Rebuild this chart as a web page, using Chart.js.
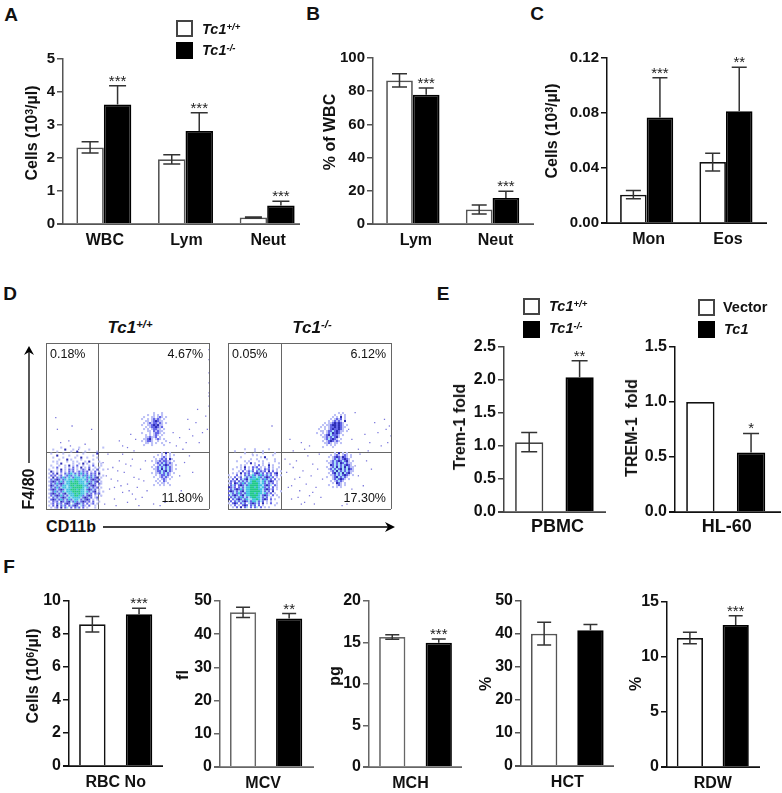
<!DOCTYPE html>
<html>
<head>
<meta charset="utf-8">
<title>Tc1 blood counts</title>
<script src="https://cdn.jsdelivr.net/npm/chart.js@4/dist/chart.umd.min.js"></script>
<style>
    html, body { margin: 0; background: #fff; }
    #page { position: relative; width: 782px; height: 793px; overflow: hidden; font-family: "Liberation Sans", Arial, sans-serif; color: #111; }
    #page canvas { position: absolute; }
    .txt { position: absolute; white-space: nowrap; line-height: 1; }
    .txt sup { font-size: .66em; line-height: 0; vertical-align: .42em; }
    .box { position: absolute; box-sizing: border-box; width: 17px; height: 17px; border: 2px solid #444; background: #fff; }
    .box.on { background: #000; border-color: #000; }
</style>
</head>
<body>
<div id="page"></div>
<script>
// panel A
const catsA = ['WBC', 'Lym', 'Neut'];
const wtA = [2.32, 1.96, 0.2];
const koA = [3.62, 2.82, 0.56];
const wtErrA = [0.17, 0.14, 0.015];
const koErrA = [0.57, 0.55, 0.13];
const starsA = ['***', '***', '***'];
const ticksA = [0, 1, 2, 3, 4, 5];
const tickLabelsA = ['0', '1', '2', '3', '4', '5'];

// panel B
const catsB = ['Lym', 'Neut'];
const wtB = [86.5, 8.7];
const koB = [77.9, 15.7];
const wtErrB = [4, 2.7];
const koErrB = [4, 4];
const starsB = ['***', '***'];
const ticksB = [0, 20, 40, 60, 80, 100];
const tickLabelsB = ['0', '20', '40', '60', '80', '100'];

// panel C
const catsC = ['Mon', 'Eos'];
const wtC = [0.0206, 0.0443];
const koC = [0.0767, 0.0813];
const wtErrC = [0.003, 0.0065];
const koErrC = [0.029, 0.032];
const starsC = ['***', '**'];
const ticksC = [0, 0.04, 0.08, 0.12];
const tickLabelsC = ['0.00', '0.04', '0.08', '0.12'];

// panel E
const wtPbmc = [1.058];
const koPbmc = [2.04];
const wtErrPbmc = [0.147];
const koErrPbmc = [0.25];
const ticksPbmc = [0, 0.5, 1, 1.5, 2, 2.5];
const tickLabelsPbmc = ['0.0', '0.5', '1.0', '1.5', '2.0', '2.5'];
const vectorHl = [1];
const tc1Hl = [0.541];
const tc1ErrHl = [0.173];
const ticksHl = [0, 0.5, 1, 1.5];
const tickLabelsHl = ['0.0', '0.5', '1.0', '1.5'];

// panel F
const wtRbc = [8.59], koRbc = [9.19], wtErrRbc = [0.47], koErrRbc = [0.37];
const wtMcv = [46.6], koMcv = [44.7], wtErrMcv = [1.55], koErrMcv = [1.5];
const wtMch = [15.66], koMch = [14.98], wtErrMch = [0.27], koErrMch = [0.44];
const wtHct = [40.1], koHct = [41.1], wtErrHct = [3.45], koErrHct = [1.8];
const wtRdw = [11.73], koRdw = [12.9], wtErrRdw = [0.53], koErrRdw = [0.85];
const ticks50 = [0, 10, 20, 30, 40, 50];
const tickLabels50 = ['0', '10', '20', '30', '40', '50'];
const ticksRbc = [0, 2, 4, 6, 8, 10];
const tickLabelsRbc = ['0', '2', '4', '6', '8', '10'];
const ticksMch = [0, 5, 10, 15, 20];
const tickLabelsMch = ['0', '5', '10', '15', '20'];
const ticksRdw = [0, 5, 10, 15];
const tickLabelsRdw = ['0', '5', '10', '15'];

// panel D: dense populations read off the dot plots as small density maps
// a lavender, b blue, c navy, d pale cyan, e cyan, g green
const wtCore = [
    '......a........a...........a',
    '..a.....c...a.......a.......',
    '....a......a..c...a.....a...',
    '.a.....a.........a......c...',
    '....c.....a...a.......a.....',
    '..a....a.....a..c..a....a...',
    '.....a...c.a....a.....a.....',
    '..a.a....a..a.a...a.c....a..',
    '....a.c.....a..a.c.a..a...a.',
    '.a...a..a.c.a.b..a..a.b...a.',
    '..a.b...a.a.b.a.c.a.b..a.a..',
    'a...a.c.a.bab.a.aba.c.a.b..a',
    '.ca.a.b.a.bdb.abdbab.a.b.a..',
    'a.b.c.a.bdbedbdbebdb.bab.c..',
    '.bab.ab.dbebdedbdbebdbdb.a.a',
    'a.c.bdbebdedbeeededbebdbc.a.',
    '.bdbcbdbedeeegeeedebdbcbab..',
    'abcbdbebdeegeggeeedbebdbc.a.',
    '.bdbebcbdeeggggeeedecbdb.ba.',
    'acbdbdbeedeggegggeebdbcb.a..',
    '.bdbebdeedeegggggedebdbab.a.',
    'abcbdbcbdeegggegeedbcbdb.a..',
    '.dbebdbedeeeggggeedebdbc.a.a',
    'abcbdbdbcdeeegegeedbdb.bab..',
    '.bdbcbebdbdeeggeebdbcb.a..a.',
    'a.bdbdbcbdedeeeedbcbdb.ab...',
    '.bcbdbebdbebdeedbdbcb.a.a...',
    'a.bab.cbdbcdbebdbcbab.b..a..',
    '.ab.bdb.bcb.dbcbdb.b.ab.a...',
    'a.b.c.bdb.bdbcb.dba.b..a....',
    '.a.ab.c.bd.b.bdb.b.a...a....'
];
const wtUpper = [
    '.......a...a..',
    '....a..a.a.a..',
    '..a...aa.aba.a',
    '.a..a.ababa.a.',
    '...aa.abcbaa..',
    '..a.ababbaba.a',
    '.a..aabcbcaa..',
    '...a.abbcbab..',
    '..a.a.abbaa.a.',
    '....aa.babaa..',
    '.a...a.abba.a.',
    '...a.a.aba.a..',
    '...aabaab.a...',
    '..aabca.aba.a.',
    '.a.abba..a...a',
    '...aa.a.a..a..',
    '..a...a.....a.'
];
const wtLower = [
    '......a.c.a...',
    '....a.a.a.a.a.',
    '..a...aba.a...',
    '...a.abab.ca..',
    '.a.aababbaa.a.',
    '...ababdbaba..',
    '..a.abdbcbaa.a',
    '.a.abdbdbdba..',
    '..aabdcdbdba.a',
    '...abbdbcdba..',
    '.a.aabdbdba.a.',
    '...a.abbdba...',
    '..a..ababa.a..',
    '....a.aba.a...',
    '...a.a.ba.....',
    '....a.aa.a....',
    '..a..a.a..a...'
];
const koCore = [
    '........a....a......a.......',
    '...a.........a...a..........',
    '........a........a.....a....',
    '............a.a.......a.....',
    '......a.........a.c.........',
    '...........a..a....a...a....',
    '....a...a.a....a.a.....a....',
    '.........a.c.a...a..a....a..',
    '......a.a....a.b.a..c.a.....',
    '....a.a.c.a.bab.a.a.b.a..a..',
    '..a...a.b.a.b.dba.bab.a.a...',
    '.....a.b.abdb.bdbab.c.b.a.a.',
    '..a.a.c.bab.dbcbdb.bab.bc...',
    'a...b.a.bdbdebdbebdbdb.ab.a.',
    '.a.b.ab.dbdbeedebdbcbdb.a...',
    'a.b.c.bdbcdeeegedbebdb.b.a..',
    '.bab.bdbdbdeggeedebdbcb.a...',
    'ab.cbdbebdeegggedebdbab.a...',
    '.bdb.bcbdbeggggeedbcbd.ba...',
    'cbab.bdbdeeggegedebdb.b.a...',
    '.bdbcbebdeeggggeedbcbab.a...',
    'bcbdbdbcdeegggggedbdb.c...a.',
    '.dbdbebdbeeggegeedebab.a....',
    'bdbcbdbcdeeggggedbcbd.b.a...',
    '.bdbdbebdbdeggeedbdb.a...a..',
    'c.bdbcbdbeddeegedbcb.b.a....',
    '.b.bdbdbcbdbeedbdb.a.a......',
    'a.bcb.bdb.dbcbdb.c.a.b..a...',
    '.a.b.a.bcb.bdb.b.a.....a....',
    '..a.b.c.bd.b.bd.b.a.a.......'
];
const koUpper = [
    '...........a.a...',
    '.........a..a.a..',
    '........a.a.c.a..',
    '.......a.abab.a..',
    '......a.ababa.c..',
    '....a.aabcbcba...',
    '...a.aabccbcba.a.',
    '..a.a.abbcbcbaa..',
    '.a..a.abcbbcba...',
    '..aa.abbdbcbaa.a.',
    'a..a.abdcbcba....',
    '..a.abcdbbba.a...',
    '...aababdbca.....',
    '....abdbcba.a....',
    '...a.abcbaba.....',
    '....aaba.aa.a....',
    '.....a.a.a.......',
    '...a....a........'
];
const koLower = [
    '.....a.c.a.a....',
    '...a.aba.aba.a..',
    '..a.abcbacba.a..',
    '....abdbabcba...',
    '.a.abdbcbdbca.a.',
    '..aabdbdcbdbaa..',
    '...cbdbdbdbcba..',
    '.a.abdcdbdcdbaa.',
    '..abdbdbcdbdcba.',
    '...abdcdbdbdbaa.',
    '..a.bcdbdcdbca..',
    '...aabdbdbcba.a.',
    '.a..abcdbdba....',
    '....abdbcba.a...',
    '...a.abdba......',
    '....a.cba.a.....',
    '..a...aba.a.....',
    '....a.a.a.......'
];
// loose events outside those populations, as [CD11b %, F4/80 %] of the frame
const wtSparse = [[6,55],[7,48],[16,50],[28,48],[14,41],[15,38],[24,39],[9,40],[20,36],[35,28],[37,20],[39,12],[41,25],[42,6],[44,17],[45,29],[47,10],[48,22],[50,4],[50,15],[52,26],[53,9],[54,19],[56,13],[57,2],[58,24],[59,7],[60,17],[61,29],[62,11],[34,8],[36,3],[38,33],[43,2],[47,33],[40,18],[46,14],[49,27],[51,11],[55,6],[42,13],[44,23],[38,24],[53,30],[57,18],[85,28],[88,32],[83,11],[90,22],[82,20],[70,2],[73,4],[66,3],[54,35],[50,37],[47,38],[45,41],[55,42],[52,45],[78,46],[80,38],[84,36],[86,40],[88,48],[90,44],[92,52],[94,40],[96,46],[98,56],[99,48],[100,62],[100,70],[100,76],[100,82],[100,90],[100,96],[100,68],[93,60],[87,54],[76,40],[82,43]];
const koSparse = [[27,50],[15,33],[35,30],[36,22],[37,13],[38,27],[39,6],[41,18],[42,29],[44,11],[45,3],[46,23],[48,15],[49,32],[50,8],[51,20],[52,27],[53,3],[54,13],[55,24],[56,33],[57,7],[58,18],[40,25],[43,7],[47,4],[44,19],[52,10],[39,14],[78,26],[80,20],[81,33],[83,14],[85,29],[88,24],[70,2],[73,3],[76,12],[40,35],[38,42],[45,40],[50,38],[47,36],[80,36],[84,45],[87,40],[90,52],[92,46],[94,38],[97,48],[99,50],[100,44],[98,40],[96,54],[86,35],[74,48],[76,42],[78,58]];
const wtPercents = ['0.18%', '4.67%', '11.80%'];
const koPercents = ['0.05%', '6.12%', '17.30%'];

const page = document.getElementById('page');
const sans = '"Liberation Sans", Arial, sans-serif';
const densityColors = { g: '#20c98a', e: '#3fc0e0', c: '#2c2cb4', b: '#6264e8', d: '#a6e0f6', a: '#bcc0f6' };

// error bars go up from the bar; white bars also get the lower half
const errorBars = {
    id: 'errorBars',
    afterDatasetsDraw(chart, args, opts) {
        const ctx = chart.ctx, y = chart.scales.y;
        ctx.save();
        ctx.strokeStyle = '#333';
        ctx.lineWidth = 1.5;
        chart.data.datasets.forEach((ds, i) => {
            if (!ds.errs) return;
            chart.getDatasetMeta(i).data.forEach((bar, k) => {
                if (!ds.errs[k]) return;
                const top = y.getPixelForValue(ds.data[k] + ds.errs[k]);
                const low = y.getPixelForValue(ds.data[k] - (ds.lowerErr ? ds.errs[k] : 0));
                ctx.beginPath();
                ctx.moveTo(bar.x, top);
                ctx.lineTo(bar.x, low);
                ctx.moveTo(bar.x - opts.cap, top);
                ctx.lineTo(bar.x + opts.cap, top);
                if (ds.lowerErr) {
                    ctx.moveTo(bar.x - opts.cap, low);
                    ctx.lineTo(bar.x + opts.cap, low);
                }
                ctx.stroke();
                if (ds.stars && ds.stars[k]) {
                    ctx.fillStyle = '#222';
                    ctx.font = '15px ' + sans;
                    ctx.textAlign = 'center';
                    ctx.textBaseline = 'alphabetic';
                    ctx.fillText(ds.stars[k], bar.x, top);
                }
            });
        });
        ctx.restore();
    }
};

// baseline runs past the last category in most panels
const baseLine = {
    id: 'baseLine',
    afterDatasetsDraw(chart, args, opts) {
        const ctx = chart.ctx, y0 = chart.scales.y.getPixelForValue(0);
        ctx.save();
        ctx.strokeStyle = opts.color;
        ctx.lineWidth = 1.75;
        ctx.beginPath();
        ctx.moveTo(chart.chartArea.left - 6, y0);
        ctx.lineTo(chart.chartArea.left + opts.length, y0);
        ctx.stroke();
        ctx.restore();
    }
};

function barPanel(id, box, cats, white, black, whiteErr, blackErr, stars, ticks, tickLabels) {
    const margin = 52, topGap = 12, below = 26;
    const canvas = document.createElement('canvas');
    const extra = Math.max(box.end - box.left - box.width, 0) + 3;
    canvas.width = Math.ceil(margin + box.width + extra);
    canvas.height = box.base - box.top + topGap + below;
    canvas.style.left = (box.left - margin) + 'px';
    canvas.style.top = (box.top - topGap) + 'px';
    canvas.id = id;
    page.appendChild(canvas);

    const bars = {
        borderWidth: 1.75,
        borderSkipped: 'bottom',
        categoryPercentage: box.catPct,
        barPercentage: box.barPct
    };
    const datasets = [Object.assign({
        data: white, errs: whiteErr, lowerErr: true,
        backgroundColor: '#fff', borderColor: box.color
    }, bars), Object.assign({
        data: black, errs: blackErr, stars: stars,
        backgroundColor: '#000', borderColor: '#000'
    }, bars)];

    return new Chart(canvas, {
        type: 'bar',
        data: { labels: cats, datasets: datasets },
        plugins: [errorBars, baseLine],
        options: {
            responsive: false,
            animation: false,
            events: [],
            layout: { padding: { top: topGap, right: extra, left: 0, bottom: 0 } },
            plugins: {
                legend: { display: false },
                tooltip: { enabled: false },
                errorBars: { cap: box.cap },
                baseLine: { color: box.color, length: box.end - box.left }
            },
            scales: {
                x: {
                    type: 'category',
                    offset: true,
                    afterFit: s => { s.height = below; },
                    grid: { display: false, drawTicks: false },
                    border: { display: false },
                    ticks: {
                        autoSkip: false,
                        maxRotation: 0,
                        color: '#111',
                        padding: box.xPad,
                        labelOffset: box.xShift || 0,
                        font: { family: sans, size: box.xFont, weight: 'bold' }
                    }
                },
                y: {
                    min: ticks[0],
                    max: ticks[ticks.length - 1],
                    afterBuildTicks: s => { s.ticks = ticks.map(v => ({ value: v })); },
                    afterFit: s => { s.width = margin; },
                    grid: { drawOnChartArea: false, color: box.color, lineWidth: 1.5, tickLength: 6 },
                    border: { color: box.color, width: 1.5 },
                    ticks: {
                        color: '#111',
                        padding: 2,
                        callback: (v, i) => tickLabels[i],
                        font: { family: sans, size: box.yFont, weight: 'bold' }
                    }
                }
            }
        }
    });
}

// turns density maps into one dot list per colour, in frame %
function mapPoints(maps) {
    const out = {};
    Object.keys(densityColors).forEach(key => { out[key] = []; });
    maps.forEach(m => {
        m.rows.forEach((row, r) => {
            row.split('').forEach((ch, k) => {
                if (out[ch]) out[ch].push({ x: m.x + k * 1.227, y: m.y - r * 1.205 });
            });
        });
    });
    return out;
}

function dotPanel(id, box, maps, sparse, vLine, hLine) {
    const canvas = document.createElement('canvas');
    canvas.width = box.w + 2;
    canvas.height = box.h + 2;
    canvas.style.left = (box.left - 1) + 'px';
    canvas.style.top = (box.top - 1) + 'px';
    canvas.id = id;
    page.appendChild(canvas);

    const cells = mapPoints(maps);
    const datasets = Object.keys(cells).map(key => ({
        data: cells[key],
        backgroundColor: densityColors[key],
        borderWidth: 0,
        pointStyle: 'rect',
        pointRadius: 1.45
    }));
    datasets.push({
        data: sparse.map(p => ({ x: p[0], y: p[1] })),
        backgroundColor: '#7a76dc',
        borderWidth: 0,
        pointStyle: 'rect',
        pointRadius: 0.9
    });

    function frameAxis(cut) {
        return {
            type: 'linear',
            min: 0,
            max: 100,
            afterBuildTicks: s => { s.ticks = [0, cut, 100].map(v => ({ value: v })); },
            grid: { color: '#666', lineWidth: 1, drawTicks: false },
            border: { display: false },
            ticks: { display: false }
        };
    }
    return new Chart(canvas, {
        type: 'scatter',
        data: { datasets: datasets },
        options: {
            responsive: false,
            animation: false,
            events: [],
            layout: { padding: 1, autoPadding: false },
            plugins: { legend: { display: false }, tooltip: { enabled: false } },
            scales: { x: frameAxis(vLine), y: frameAxis(hLine) }
        }
    });
}

function text(html, x, y, size, style) {
    const el = document.createElement('div');
    el.className = 'txt';
    el.innerHTML = html;
    el.style.left = x + 'px';
    el.style.top = y + 'px';
    el.style.fontSize = size + 'px';
    el.style.transform = 'translate(' + ((style && style.anchor) || '-50%') + ',-50%)';
    el.style.fontWeight = (style && style.weight) || 'bold';
    if (style && style.italic) el.style.fontStyle = 'italic';
    page.appendChild(el);
    return el;
}

function yTitle(html, x, y) {
    const el = document.createElement('div');
    el.className = 'txt';
    el.innerHTML = html;
    el.style.left = x + 'px';
    el.style.top = y + 'px';
    el.style.fontSize = '16px';
    el.style.fontWeight = 'bold';
    el.style.transform = 'translate(-50%,-50%) rotate(-90deg)';
    page.appendChild(el);
}

function legendBox(x, y, filled) {
    const el = document.createElement('div');
    el.className = filled ? 'box on' : 'box';
    el.style.left = x + 'px';
    el.style.top = y + 'px';
    page.appendChild(el);
}

const wtName = 'Tc1<sup>+/+</sup>', koName = 'Tc1<sup>-/-</sup>';

barPanel('chartA', { left: 63, top: 59, base: 224, width: 245, end: 300, catPct: 0.673, barPct: 1, cap: 8.5, color: '#555', xFont: 16, yFont: 15, xPad: 7, xShift: 1 },
    catsA, wtA, koA, wtErrA, koErrA, starsA, ticksA, tickLabelsA);
barPanel('chartB', { left: 373, top: 58, base: 224, width: 159.4, end: 534, catPct: 0.67, barPct: 1, cap: 7.5, color: '#555', xFont: 16, yFont: 15, xPad: 7, xShift: 3 },
    catsB, wtB, koB, wtErrB, koErrB, starsB, ticksB, tickLabelsB);
barPanel('chartC', { left: 607, top: 58, base: 223, width: 158.6, end: 767, catPct: 0.67, barPct: 1, cap: 7.5, color: '#111', xFont: 16, yFont: 15, xPad: 7, xShift: 2 },
    catsC, wtC, koC, wtErrC, koErrC, starsC, ticksC, tickLabelsC);
barPanel('chartPbmc', { left: 504, top: 347, base: 512, width: 100.8, end: 606, catPct: 1, barPct: 0.56, cap: 8, color: '#444', xFont: 18, yFont: 16, xPad: 4, xShift: 3 },
    ['PBMC'], wtPbmc, koPbmc, wtErrPbmc, koErrPbmc, ['**'], ticksPbmc, tickLabelsPbmc);
barPanel('chartHl', { left: 675, top: 347, base: 512, width: 101.4, end: 781, catPct: 1, barPct: 0.56, cap: 8, color: '#111', xFont: 18, yFont: 16, xPad: 4, xShift: 1 },
    ['HL-60'], vectorHl, tc1Hl, [0], tc1ErrHl, ['*'], ticksHl, tickLabelsHl);
barPanel('chartRbc', { left: 69, top: 601, base: 766, width: 93.4, end: 163, catPct: 1, barPct: 0.567, cap: 7, color: '#111', xFont: 16, yFont: 16, xPad: 7 },
    ['RBC No'], wtRbc, koRbc, wtErrRbc, koErrRbc, ['***'], ticksRbc, tickLabelsRbc);
barPanel('chartMcv', { left: 220, top: 601, base: 767, width: 92.2, end: 314, catPct: 1, barPct: 0.568, cap: 7, color: '#666', xFont: 16, yFont: 16, xPad: 7, xShift: -3 },
    ['MCV'], wtMcv, koMcv, wtErrMcv, koErrMcv, ['**'], ticks50, tickLabels50);
barPanel('chartMch', { left: 369, top: 601, base: 767, width: 93, end: 462, catPct: 1, barPct: 0.565, cap: 7, color: '#666', xFont: 16, yFont: 16, xPad: 7, xShift: -5 },
    ['MCH'], wtMch, koMch, wtErrMch, koErrMch, ['***'], ticksMch, tickLabelsMch);
barPanel('chartHct', { left: 521, top: 601, base: 766, width: 92.6, end: 614, catPct: 1, barPct: 0.57, cap: 7, color: '#555', xFont: 16, yFont: 16, xPad: 7 },
    ['HCT'], wtHct, koHct, wtErrHct, koErrHct, [''], ticks50, tickLabels50);
barPanel('chartRdw', { left: 667, top: 602, base: 767, width: 91.6, end: 760, catPct: 1, barPct: 0.572, cap: 7, color: '#111', xFont: 16, yFont: 16, xPad: 7 },
    ['RDW'], wtRdw, koRdw, wtErrRdw, koErrRdw, ['***'], ticksRdw, tickLabelsRdw);

dotPanel('dotsWt', { left: 46, top: 343, w: 163, h: 166 }, [
    { rows: wtCore, x: 2, y: 37 },
    { rows: wtUpper, x: 57.7, y: 57.8 },
    { rows: wtLower, x: 63.8, y: 33.7 }
], wtSparse, 32, 34);
dotPanel('dotsKo', { left: 228, top: 343, w: 163, h: 166 }, [
    { rows: koCore, x: 0.6, y: 36 },
    { rows: koUpper, x: 54.6, y: 57.8 },
    { rows: koLower, x: 59.5, y: 33.7 }
], koSparse, 33, 34);

// panel letters
text('A', 11, 14, 19);
text('B', 313, 13, 19);
text('C', 537, 13, 19);
text('D', 10, 293, 19);
text('E', 443, 293, 19);
text('F', 9, 566, 19);

// axis titles
yTitle('Cells (10<sup>3</sup>/µl)', 32, 133);
yTitle('% of WBC', 330, 132);
yTitle('Cells (10<sup>3</sup>/µl)', 552, 131);
yTitle('Trem-1 fold', 460, 427);
yTitle('TREM-1&nbsp; fold', 632, 428);
yTitle('Cells (10<sup>6</sup>/µl)', 33, 676);
yTitle('fl', 183, 675);
yTitle('pg', 335, 676);
yTitle('%', 486, 684);
yTitle('%', 636, 684);

// legends
legendBox(176, 20, false);
legendBox(176, 42, true);
text(wtName, 202, 29, 14.5, { italic: true, anchor: '0' });
text(koName, 202, 50, 14.5, { italic: true, anchor: '0' });
legendBox(523, 298, false);
legendBox(523, 321, true);
text(wtName, 549, 306, 14.5, { italic: true, anchor: '0' });
text(koName, 549, 328, 14.5, { italic: true, anchor: '0' });
legendBox(698, 299, false);
legendBox(698, 321, true);
text('Vector', 723, 307, 14.5, { anchor: '0' });
text('Tc1', 724, 329, 14.5, { italic: true, anchor: '0' });

// panel D texts and arrows
text(wtName, 130, 327, 17, { italic: true });
text(koName, 312, 327, 17, { italic: true });
text(wtPercents[0], 50, 354, 12.5, { weight: 'normal', anchor: '0' });
text(wtPercents[1], 203, 354, 12.5, { weight: 'normal', anchor: '-100%' });
text(wtPercents[2], 203, 498, 12.5, { weight: 'normal', anchor: '-100%' });
text(koPercents[0], 232, 354, 12.5, { weight: 'normal', anchor: '0' });
text(koPercents[1], 386, 354, 12.5, { weight: 'normal', anchor: '-100%' });
text(koPercents[2], 386, 498, 12.5, { weight: 'normal', anchor: '-100%' });
yTitle('F4/80', 29, 489);
text('CD11b', 71, 527, 16);

page.insertAdjacentHTML('beforeend',
    '<svg width="782" height="793" style="position:absolute;left:0;top:0;pointer-events:none">' +
    '<path d="M29 463V351M103 527H390" stroke="#000" stroke-width="1.3" fill="none"/>' +
    '<path d="M29 346L24 355L29 352L34 355ZM395 527L385 522L388 527L385 532Z" fill="#000"/>' +
    '</svg>');
</script>
</body>
</html>
